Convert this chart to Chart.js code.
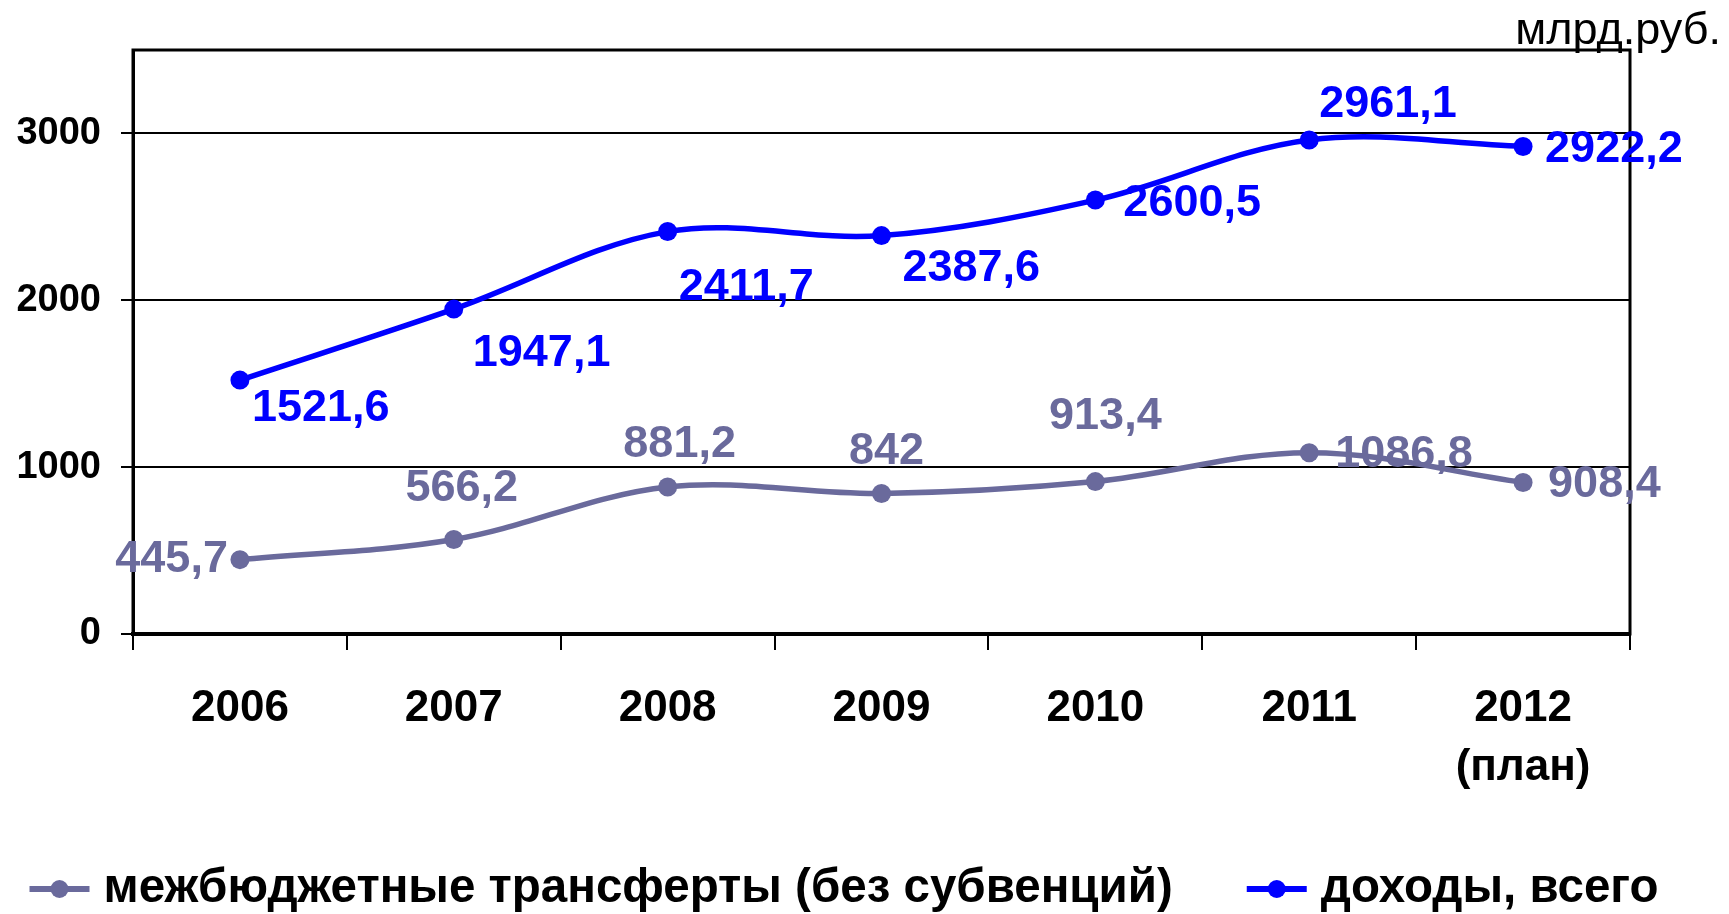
<!DOCTYPE html>
<html lang="ru">
<head>
<meta charset="utf-8">
<title>Доходы и межбюджетные трансферты</title>
<script src="https://cdn.jsdelivr.net/npm/chart.js@4.4.1/dist/chart.umd.min.js"></script>
<style>
    html, body { margin: 0; padding: 0; background: #fff; }
    #wrap { width: 1729px; height: 914px; }
</style>
</head>
<body>
<div id="wrap"><canvas id="budgetChart" width="1729" height="914"></canvas></div>
<script>
// Доходы и межбюджетные трансферты (без субвенций), млрд.руб.

const years = ['2006', '2007', '2008', '2009', '2010', '2011', ['2012', '(план)']];
const transfers    = [445.7, 566.2, 881.2, 842, 913.4, 1086.8, 908.4];
const revenueTotal = [1521.6, 1947.1, 2411.7, 2387.6, 2600.5, 2961.1, 2922.2];
const yTicks = [0, 1000, 2000, 3000];
const Y_MAX = 3500;
const UNIT = 'млрд.руб.';

// where each value label sits relative to its point: [align, dx, dy]
const transferLabelPos = [['right', -12, 0], ['center', 8, -51], ['center', 12, -42], ['center', 5, -42],
                          ['center', 10, -65], ['left', 26, 2], ['left', 25, 2]];
const revenueLabelPos  = [['left', 12, 28], ['left', 19, 44], ['left', 11, 56], ['left', 21, 33],
                          ['left', 28, 4], ['left', 10, -35], ['left', 22, 3]];

// the source text is drawn taller than plain Arial; a narrow face at a bigger size gets close
function fontAvailable(name) {
    const c = document.createElement('canvas').getContext('2d');
    const probe = 'межбюджетные 2006 доходы';
    return ['monospace', 'serif'].some(fb => {
        c.font = `bold 40px ${fb}`;
        const a = c.measureText(probe).width;
        c.font = `bold 40px '${name}', ${fb}`;
        return Math.abs(c.measureText(probe).width - a) > 0.5;
    });
}
const NARROW = fontAvailable('Liberation Sans Narrow');
const FONT = NARROW ? "'Liberation Sans Narrow', 'Liberation Sans', Arial, sans-serif"
                    : "'Liberation Sans', Arial, sans-serif";
const S = NARROW ? 1.21 : 1;   // font size factor
const px = (n) => Math.round(n * S * 10) / 10;

const GREY = '#6a6a9c';
const BLUE = '#0000ff';

const fmt = (v) => String(v).replace('.', ',');

// plot frame (top / right edges as well as axes)
const framePlugin = {
    id: 'frame',
    beforeDatasetsDraw(chart) {
        const { ctx, chartArea: a } = chart;
        ctx.save();
        ctx.strokeStyle = '#000';
        ctx.lineWidth = 3;
        ctx.strokeRect(a.left, a.top, a.right - a.left, a.bottom - a.top);
        ctx.restore();
    }
};

// value labels next to every point
const valueLabelPlugin = {
    id: 'valueLabels',
    afterDatasetsDraw(chart) {
        const { ctx } = chart;
        ctx.save();
        ctx.font = `bold ${px(45)}px ${FONT}`;
        ctx.textBaseline = 'middle';
        chart.data.datasets.forEach((ds, i) => {
            const meta = chart.getDatasetMeta(i);
            meta.data.forEach((pt, j) => {
                const [align, dx, dy] = ds.labelPos[j];
                ctx.fillStyle = ds.borderColor;
                ctx.textAlign = align;
                ctx.fillText(fmt(ds.data[j]), pt.x + dx, pt.y + dy);
            });
        });
        ctx.restore();
    }
};

// unit caption and bottom legend
const captionPlugin = {
    id: 'captions',
    afterDraw(chart) {
        const { ctx } = chart;
        ctx.save();
        ctx.fillStyle = '#000';
        ctx.font = `${px(45)}px ${FONT}`;
        ctx.textAlign = 'right';
        ctx.textBaseline = 'alphabetic';
        ctx.fillText(UNIT, 1721, 44);

        ctx.font = `bold ${px(47.5)}px ${FONT}`;
        ctx.textAlign = 'left';
        ctx.textBaseline = 'middle';
        const markW = 60, gapText = 14, gapItem = 74, cy = 889;
        const items = chart.data.datasets.map(ds => ({ ds, w: ctx.measureText(ds.label).width }));
        const total = items.reduce((s, it) => s + markW + gapText + it.w, 0) + gapItem * (items.length - 1);
        let x = 844 - total / 2;
        items.forEach(({ ds, w }) => {
            ctx.strokeStyle = ds.borderColor;
            ctx.fillStyle = ds.borderColor;
            ctx.lineWidth = 6;
            ctx.beginPath();
            ctx.moveTo(x, cy);
            ctx.lineTo(x + markW, cy);
            ctx.stroke();
            ctx.beginPath();
            ctx.arc(x + markW / 2, cy, 9, 0, Math.PI * 2);
            ctx.fill();
            ctx.fillStyle = '#000';
            ctx.fillText(ds.label, x + markW + gapText, cy);
            x += markW + gapText + w + gapItem;
        });
        ctx.restore();
    }
};

Chart.defaults.font.family = FONT;

new Chart(document.getElementById('budgetChart'), {
    type: 'line',
    data: {
        labels: years,
        datasets: [
            {
                label: 'межбюджетные трансферты (без субвенций)',
                data: transfers,
                borderColor: GREY,
                backgroundColor: GREY,
                labelPos: transferLabelPos
            },
            {
                label: 'доходы, всего',
                data: revenueTotal,
                borderColor: BLUE,
                backgroundColor: BLUE,
                labelPos: revenueLabelPos
            }
        ]
    },
    options: {
        responsive: false,
        animation: false,
        layout: { padding: { top: 50, right: 99, left: 0, bottom: 0 } },
        elements: {
            line: { borderWidth: 5.5, tension: 0.35, fill: false },
            point: { radius: 9.5, borderWidth: 0, hoverRadius: 9.5 }
        },
        plugins: {
            legend: { display: false },
            tooltip: { enabled: false }
        },
        scales: {
            x: {
                offset: true,
                afterFit: (s) => { s.height = 280; },
                grid: { offset: true, drawOnChartArea: false, color: '#000', lineWidth: 2, tickLength: 16 },
                border: { display: true, color: '#000', width: 4 },
                ticks: {
                    color: '#000',
                    font: { size: px(44), weight: 'bold', lineHeight: '59px' },
                    padding: 29,
                    maxRotation: 0,
                    autoSkip: false
                }
            },
            y: {
                min: 0,
                max: Y_MAX,
                afterFit: (s) => { s.width = 133; },
                afterBuildTicks: (s) => { s.ticks = yTicks.map(v => ({ value: v })); },
                grid: { color: '#000', lineWidth: 2, tickLength: 12 },
                border: { display: true, color: '#000', width: 3 },
                ticks: {
                    color: '#000',
                    font: { size: px(38), weight: 'bold' },
                    padding: 20,
                    callback: (v) => String(v)
                }
            }
        }
    },
    plugins: [framePlugin, valueLabelPlugin, captionPlugin]
});
</script>
</body>
</html>
